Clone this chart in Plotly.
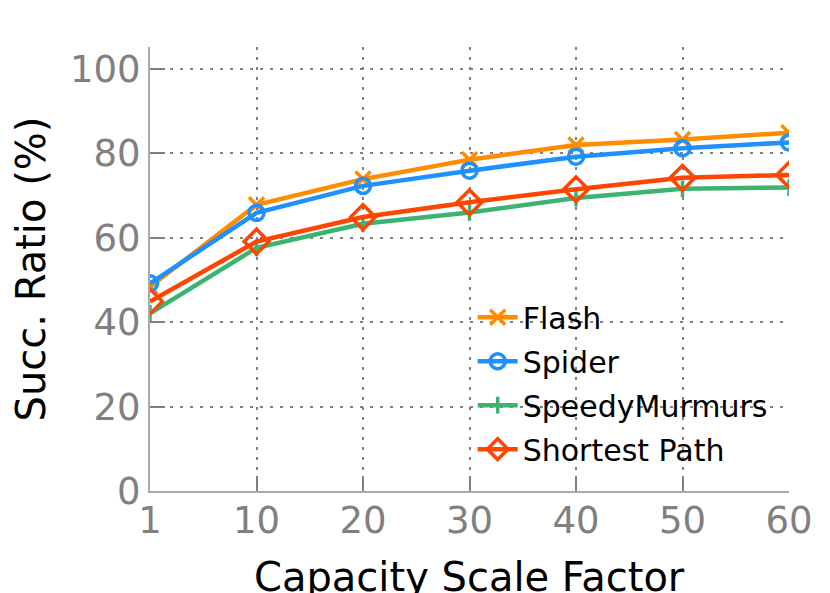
import plotly.graph_objects as go

# capacity scale factors (categorical, evenly spaced)
scale_factors = ["1", "10", "20", "30", "40", "50", "60"]

flash = [48.4, 67.8, 73.9, 78.5, 82.0, 83.3, 84.9]
spider = [49.2, 65.9, 72.3, 75.9, 79.2, 81.2, 82.6]
speedy_murmurs = [42.1, 57.6, 63.3, 66.0, 69.4, 71.6, 71.9]
shortest_path = [44.9, 59.1, 64.9, 68.4, 71.5, 74.2, 74.9]

y_ticks = [0, 20, 40, 60, 80, 100]

FONT = "DejaVu Sans"
GRAY = "#808080"
GRID_DASH = "3px,7px"

series = [
    ("Flash", flash, "#FF8C00", "x-thin-open", 15),
    ("Spider", spider, "#1E90FF", "circle-open", 15),
    ("SpeedyMurmurs", speedy_murmurs, "#3CB371", "line-ns-open", 12),
    ("Shortest Path", shortest_path, "#FF4500", "diamond-open", 19),
]

fig = go.Figure()
for name, vals, color, symbol, size in series:
    fig.add_trace(go.Scatter(
        x=scale_factors, y=vals, name=name, mode="lines+markers",
        legendgroup=name,
        line=dict(color=color, width=4.5),
        marker=dict(symbol=symbol, size=size, color=color,
                    line=dict(color=color, width=3.5)),
    ))

# the page body adds an 8px margin, so the figure is 8px smaller each way
fig.update_layout(
    width=822, height=585,
    margin=dict(l=142, r=41, t=39, b=102),
    paper_bgcolor="white", plot_bgcolor="white",
    font=dict(family=FONT, color="black"),
    legend=dict(
        x=0.505, y=0.45, xanchor="left", yanchor="top",
        bgcolor="rgba(0,0,0,0)", font=dict(size=30, family=FONT),
        itemwidth=40, traceorder="grouped", tracegroupgap=2,
    ),
)

# x title as an annotation so it can sit partly below the page edge
fig.add_annotation(
    text="Capacity Scale Factor", xref="paper", yref="paper",
    x=0.5, y=0, xanchor="center", yanchor="middle", yshift=-86,
    showarrow=False, font=dict(size=40, family=FONT, color="black"),
)

fig.update_xaxes(
    type="category", automargin=False,
    tickfont=dict(size=37, color=GRAY),
    showline=True, linecolor="#aaaaaa", linewidth=2,
    ticks="inside", ticklen=15, tickcolor=GRAY, tickwidth=1.5,
    showgrid=True, gridcolor=GRAY, griddash=GRID_DASH, gridwidth=1.5,
    range=[0, 6], zeroline=False, ticklabelstandoff=-4,
)
fig.update_yaxes(
    automargin=False,
    title=dict(text="Succ. Ratio (%)", font=dict(size=40), standoff=14),
    tickfont=dict(size=37, color=GRAY),
    tickvals=y_ticks, range=[0, 105.2],
    showline=True, linecolor="#aaaaaa", linewidth=2,
    ticks="inside", ticklen=15, tickcolor=GRAY, tickwidth=1.5,
    showgrid=True, gridcolor=GRAY, griddash=GRID_DASH, gridwidth=1.5,
    zeroline=False, ticklabelstandoff=0,
)

fig.write_html("out.html")
